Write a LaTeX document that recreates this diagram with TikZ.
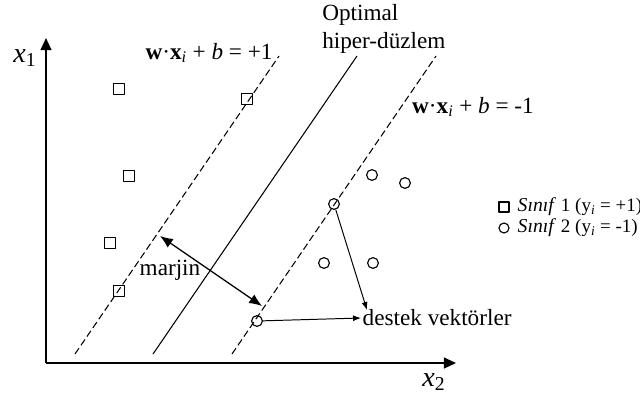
\documentclass[tikz,border=0pt]{standalone}
\usepackage{fontspec}
\setmainfont{Liberation Serif}
\usetikzlibrary{arrows.meta}

\begin{document}
\begin{tikzpicture}[
  x = 0.025cm,
  y = -0.025cm,
  line join=round,
  eksen/.style    = {line width=1.1pt, -{Triangle[length=3mm, width=2.7mm]}},
  sinirdash/.style = {line width=0.75pt, dash pattern=on 5pt off 2.5pt},
  sinirduz/.style  = {line width=0.75pt},
  kare/.style     = {draw, line width=0.8pt, minimum size=0.29cm, inner sep=0pt},
  daire/.style    = {draw, circle, line width=0.8pt, minimum size=0.27cm, inner sep=0pt},
  okkucuk/.style  = {line width=0.7pt, -{Latex[length=2mm, width=1.5mm]}},
  etiket/.style   = {font=\fontsize{16.5}{20}\selectfont}
]
  \useasboundingbox (0,0) rectangle (640,403);

  % eksenler
  \coordinate (O) at (46,363);
  \draw[eksen] (O) -- (46,38);
  \draw[eksen] (O) -- (456,363);
  \node at (25,58)  [font=\fontsize{20}{24}\selectfont] {\textit{x}\textsubscript{1}};
  \node at (434,382) [font=\fontsize{20}{24}\selectfont] {\textit{x}\textsubscript{2}};

  % hiper-düzlemler
  \draw[sinirdash] (75,354)  -- (279,56);
  \draw[sinirduz]  (153,354) -- (357,56);
  \draw[sinirdash] (232,354) -- (436,56);

  % sınıf 1
  \foreach \px/\py in {119/89, 247/99, 129/176, 110/243, 119/291}
    \node[kare] at (\px,\py) {};
  % sınıf 2
  \foreach \px/\py in {372/175, 405/183, 324/263, 373/263}
    \node[daire] at (\px,\py) {};
  \node[daire] (sv1) at (334,204) {};
  \node[daire] (sv2) at (257,321) {};

  % etiketler
  \node at (209,53)  [etiket] {\textbf{w}·\textbf{x}\textsubscript{\textit{i}} + \textit{b} = +1};
  \node at (473,107) [etiket] {\textbf{w}·\textbf{x}\textsubscript{\textit{i}} + \textit{b} = -1};
  \node at (322,29)  [etiket, anchor=west, align=left, inner sep=0pt] {Optimal\\hiper-düzlem};
  \node (marjin) at (170,270) [etiket] {marjin};
  \node (destek) at (361,318) [etiket, anchor=west, inner sep=1pt] {destek vektörler};

  % marjin oku
  \coordinate (m1) at (160,236);
  \coordinate (m2) at (262,306);
  \draw[line width=0.9pt, {Latex[length=3.2mm, width=2.6mm]}-{Latex[length=3.2mm, width=2.6mm]}] (m1) -- (m2);

  % destek vektör okları
  \draw[okkucuk] (sv2) -- (destek.west);
  \draw[okkucuk] (sv1) -- ([shift={(6,-8)}]destek.west);

  % açıklama
  \node[kare, minimum size=0.25cm] (lk) at (504,207) {};
  \node[daire, minimum size=0.25cm] (ld) at (504,228) {};
  \node at (516,207) [anchor=west, inner sep=1pt, font=\fontsize{14}{16}\selectfont]
    {\textit{Sınıf} {\fontsize{13.5}{15}\selectfont 1 (y\textsubscript{\textit{i}} = +1)}};
  \node at (516,228) [anchor=west, inner sep=1pt, font=\fontsize{14}{16}\selectfont]
    {\textit{Sınıf} {\fontsize{13.5}{15}\selectfont 2 (y\textsubscript{\textit{i}} = -1)}};
\end{tikzpicture}
\end{document}
